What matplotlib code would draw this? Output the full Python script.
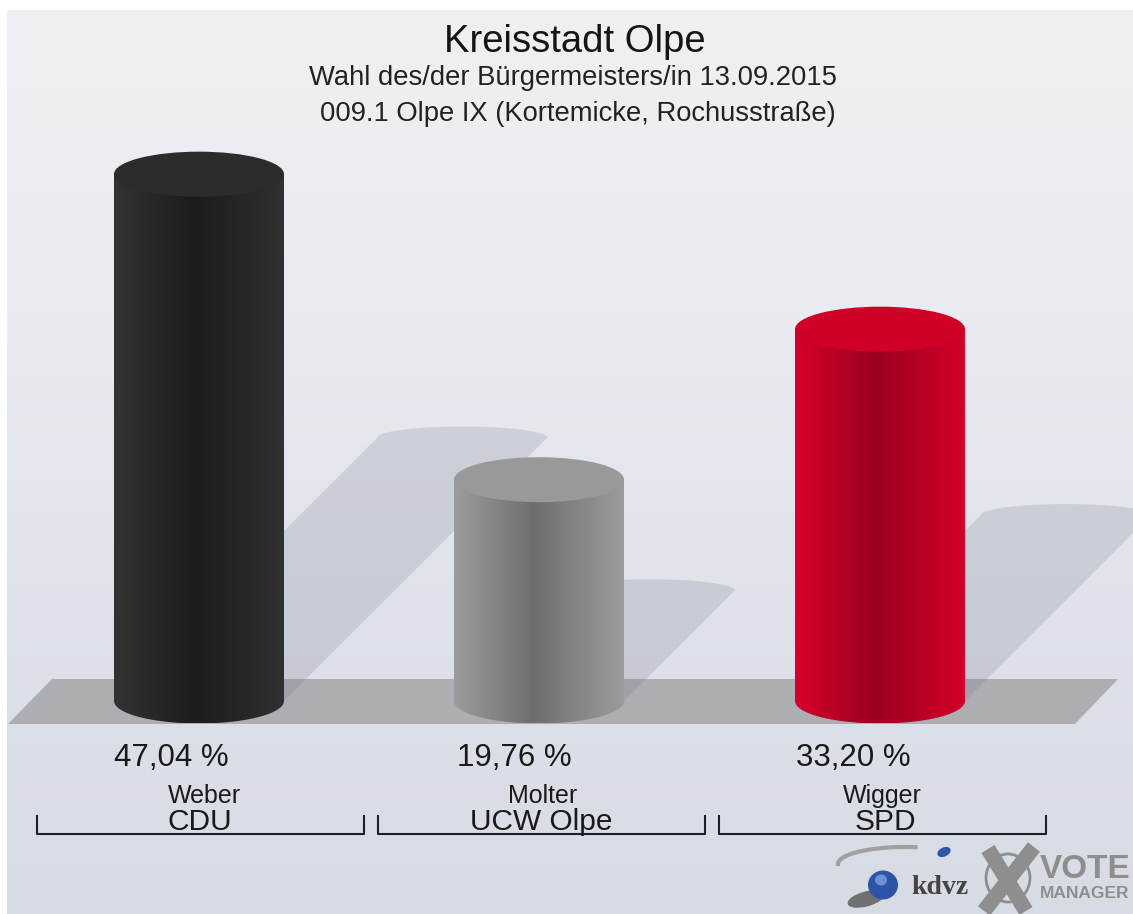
import matplotlib
matplotlib.use('Agg')
import matplotlib.pyplot as plt
import numpy as np
from matplotlib.patches import Ellipse, Polygon, PathPatch
from matplotlib.path import Path
from matplotlib.colors import LinearSegmentedColormap

plt.rcParams['font.family'] = ['Liberation Sans', 'DejaVu Sans']

names = ['Weber', 'Molter', 'Wigger']
parties = ['CDU', 'UCW Olpe', 'SPD']
values = [47.04, 19.76, 33.20]
value_labels = ['47,04 %', '19,76 %', '33,20 %']

# side gradient (edge, centre, edge) and top colour of each cylinder
side_colors = [['#333333', '#1c1c1c', '#303030'],
               ['#9c9c9c', '#6e6e6e', '#9c9c9c'],
               ['#d8002a', '#9a0020', '#d4002a']]
top_colors = ['#2c2c2c', '#999999', '#d00026']

centers = [199, 539, 880]
half_w = 85
base_y = 701
cap_h = 22.5
px_per_pct = 11.2

fig = plt.figure(figsize=(11.33, 9.14), dpi=100)
ax = fig.add_axes([0, 0, 1, 1])
ax.set_xlim(0, 1133)
ax.set_ylim(914, 0)
ax.axis('off')

# background
bg = LinearSegmentedColormap.from_list('bg', ['#f0f0f4', '#e9ebf0', '#dfe2ea', '#d7dbe4'])
ax.imshow(np.linspace(0, 1, 256).reshape(-1, 1), cmap=bg, extent=[7, 1133, 914, 10],
          aspect='auto', zorder=0)

# floor
ax.add_patch(Polygon([(8, 724), (52, 679), (1118, 679), (1075, 724)], fc='#adaeb2', ec='none', zorder=1))

# shadows
for cx, v in zip(centers, values):
    h = v * px_per_pct
    sx = cx + 0.5 * h
    sy = base_y - 0.5 * h
    t = np.linspace(np.pi, 2 * np.pi, 60)
    arc = np.column_stack([sx + half_w * np.cos(t), sy + 11 * np.sin(t)])
    pts = np.vstack([arc, [(cx + half_w, base_y), (cx - half_w, base_y)]])
    ax.add_patch(Polygon(pts, fc='#6f7687', ec='none', alpha=0.2, zorder=2))

# cylinders
for cx, v, sc, tc in zip(centers, values, side_colors, top_colors):
    top_y = base_y - v * px_per_pct
    t = np.linspace(np.pi, 0, 60)
    lower = np.column_stack([cx + half_w * np.cos(t), base_y + cap_h * np.sin(t)])
    verts = np.vstack([[(cx - half_w, top_y)], lower, [(cx + half_w, top_y), (cx - half_w, top_y)]])
    clip = PathPatch(Path(verts), fc='none', ec='none', zorder=3)
    ax.add_patch(clip)
    cmap = LinearSegmentedColormap.from_list('side', [(0, sc[0]), (0.47, sc[1]), (1, sc[2])])
    im = ax.imshow(np.linspace(0, 1, 256).reshape(1, -1), cmap=cmap, aspect='auto', zorder=3,
                   extent=[cx - half_w, cx + half_w, base_y + cap_h, top_y - 1])
    im.set_clip_path(clip)
    ax.add_patch(Ellipse((cx, top_y), 2 * half_w, 2 * cap_h, fc=tc, ec='none', zorder=4))
ax.set_xlim(0, 1133)
ax.set_ylim(914, 0)

# titles
ax.text(575, 42, 'Kreisstadt Olpe', fontsize=27.5, ha='center', va='center', color='#151515')
ax.text(573, 78, 'Wahl des/der Bürgermeisters/in 13.09.2015', fontsize=19.7, ha='center', va='center', color='#222222')
ax.text(578, 114, '009.1 Olpe IX (Kortemicke, Rochusstraße)', fontsize=19.7, ha='center', va='center', color='#222222')

# labels and brackets
label_x = [171, 514, 853]
name_x = [204, 543, 882]
party_x = [200, 541, 885]
left_x = [37, 378, 719]
for i in range(3):
    ax.text(label_x[i], 758, value_labels[i], fontsize=22.5, ha='center', va='center', color='#1a1a1a')
    ax.text(name_x[i], 796, names[i], fontsize=18, ha='center', va='center', color='#1a1a1a')
    ax.text(party_x[i], 822, parties[i], fontsize=21.5, ha='center', va='center', color='#1a1a1a')
    ax.plot([left_x[i], left_x[i], left_x[i] + 327, left_x[i] + 327], [816, 834, 834, 816],
            color='#1a1f2a', lw=1.5, zorder=5)

# logos
t = np.linspace(np.pi * 1.0, np.pi * 1.55, 40)
ax.plot(905 + 67 * np.cos(t), 864 + 17 * np.sin(t), color='#a0a0a0', lw=3, zorder=5)
ax.add_patch(Ellipse((866, 899), 38, 15, angle=-15, fc='#444444', ec='none', alpha=0.7, zorder=5))
ax.add_patch(Ellipse((883, 885), 30, 29, fc='#2c55a8', ec='none', zorder=6))
ax.add_patch(Ellipse((881, 880), 12, 11, fc='#6f90d4', ec='none', zorder=6))
ax.add_patch(Ellipse((944, 852), 14, 9, angle=-25, fc='#2c55a8', ec='none', zorder=6))
ax.text(940, 888, 'kdvz', fontsize=20, family=['Liberation Serif'], weight='bold', ha='center', va='center', color='#444444', zorder=6)
ax.add_patch(Ellipse((1008, 878), 44, 48, fc='none', ec='#8e8e8e', lw=2, zorder=5))
ax.plot([984, 1034], [911, 847], color='#8e8e8e', lw=11, solid_capstyle='butt', zorder=6)
ax.plot([988, 1026], [849, 911], color='#8e8e8e', lw=11, solid_capstyle='butt', zorder=6)
ax.text(1040, 869, 'VOTE', fontsize=24, weight='bold', ha='left', va='center', color='#8e8e8e', zorder=6)
ax.text(1040, 894, 'MANAGER', fontsize=12.5, weight='bold', ha='left', va='center', color='#8e8e8e', zorder=6)

fig.savefig('out.png', dpi=100)
